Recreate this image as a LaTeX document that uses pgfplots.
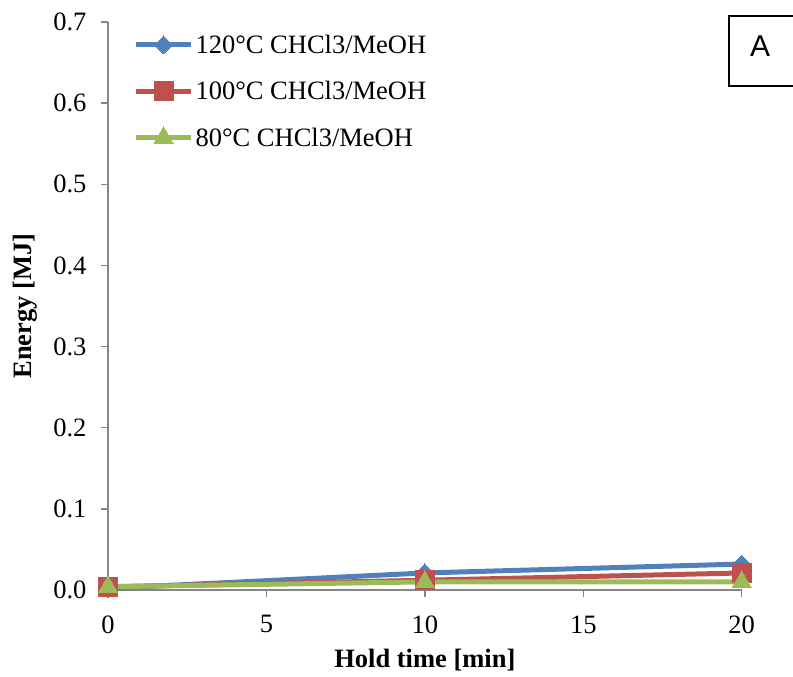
\documentclass[border=0pt]{standalone}
\usepackage{fontspec}
\setmainfont{Liberation Serif}
\newfontfamily\arialfont{Liberation Sans}
\usepackage{pgfplots}
\pgfplotsset{compat=1.18}

\definecolor{exblue}{HTML}{4F81BD}
\definecolor{exred}{HTML}{C0504D}
\definecolor{exgreen}{HTML}{9BBB59}
\definecolor{axgray}{HTML}{868686}

\newcommand{\chartfont}{\fontsize{26.5}{30}\selectfont}

\begin{document}
\begin{tikzpicture}[x=1pt,y=1pt]
% page frame, with the plot area's lower left corner at the origin
\path[use as bounding box] (-108,-87) rectangle (685,590);
\begin{axis}[
  name=ax,
  at={(0pt,0pt)}, anchor=south west,
  scale only axis,
  width=633.7pt, height=568pt,
  xmin=0, xmax=20, ymin=0, ymax=0.7,
  xtick={0,5,10,15,20},
  ytick={0,0.1,0.2,0.3,0.4,0.5,0.6,0.7},
  yticklabel style={/pgf/number format/fixed,/pgf/number format/fixed zerofill,/pgf/number format/precision=1,xshift=-11pt},
  /pgf/number format/assume math mode=true,
  ticklabel style={font=\chartfont},
  axis lines*=left,
  axis line style={axgray, line width=1.3pt},
  tick style={axgray, line width=1.3pt},
  tick align=outside,
  major tick length=7pt,
  xtick pos=bottom, ytick pos=left,
  xticklabel style={yshift=-15pt},
  xlabel={\textbf{Hold time [min]}},
  ylabel={\textbf{Energy [MJ]}},
  label style={font=\chartfont},
  xlabel style={at={(axis description cs:0.5,-0.123)}, anchor=center},
  ylabel style={at={(axis description cs:-0.13,0.5)}, anchor=center},
  clip=false,
  legend style={
    at={(axis description cs:0.04,0.981)}, anchor=north west,
    draw=none, fill=none, font=\chartfont,
    row sep=22.5pt, inner sep=0pt,
    /tikz/every even column/.append style={column sep=5pt},
  },
  legend cell align=left,
  legend image code/.code={%
    \draw[mark repeat=2,mark phase=2] plot coordinates {(0pt,0pt) (27.5pt,0pt) (55pt,0pt)};},
]
\addplot[exblue, line width=5pt, mark=diamond*, mark size=9pt,
  mark options={line width=0pt, fill=exblue, xscale=1.3}]
  coordinates {(0,0.002) (10,0.021) (20,0.032)};
\addlegendentry{120°C CHCl3/MeOH}
\addplot[exred, line width=5pt, mark=square*, mark size=9.5pt,
  mark options={line width=0pt, fill=exred}]
  coordinates {(0,0.004) (10,0.012) (20,0.021)};
\addlegendentry{100°C CHCl3/MeOH}
\addplot[exgreen, line width=5pt, mark=triangle*, mark size=11pt,
  mark options={line width=0pt, fill=exgreen}]
  coordinates {(0,0.004) (10,0.010) (20,0.010)};
\addlegendentry{80°C CHCl3/MeOH}
\end{axis}
% panel tag, cut off by the right edge of the page
\draw[black, line width=2pt] (621,504) rectangle (690,574);
\node[font=\arialfont\fontsize{30}{34}\selectfont] at (652,544) {A};
\end{tikzpicture}
\end{document}
